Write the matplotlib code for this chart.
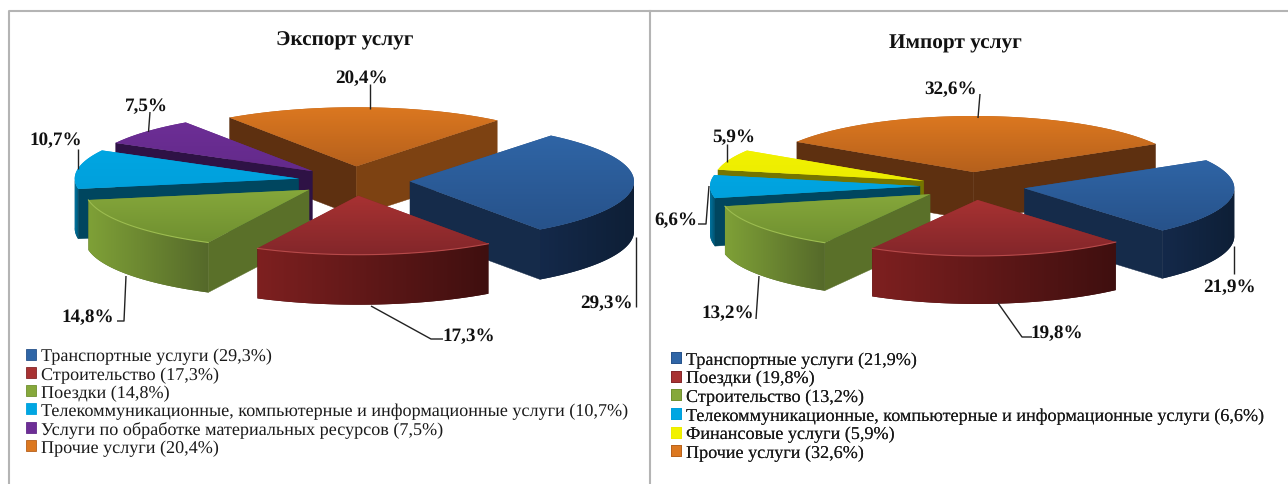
import numpy as np
import matplotlib
matplotlib.use("Agg")
import matplotlib.pyplot as plt
from matplotlib.patches import Polygon, Rectangle
from matplotlib.colors import LinearSegmentedColormap, to_rgb

plt.rcParams['font.family'] = ['Liberation Serif', 'DejaVu Serif']
plt.rcParams['text.hinting'] = 'no_hinting'

W, H = 1288, 485

# ---- data ----
export_names = ["Транспортные услуги", "Строительство", "Поездки",
                "Телекоммуникационные, компьютерные и информационные услуги",
                "Услуги по обработке материальных ресурсов", "Прочие услуги"]
export_values = [29.3, 17.3, 14.8, 10.7, 7.5, 20.4]
import_names = ["Транспортные услуги", "Поездки", "Строительство",
                "Телекоммуникационные, компьютерные и информационные услуги",
                "Финансовые услуги", "Прочие услуги"]
import_values = [21.9, 19.8, 13.2, 6.6, 5.9, 32.6]

# ---- styles: (top back, top front, wall left, wall right, near radial wall, far radial wall) ----
BLUE = ("#2f65a6", "#27528a", "#14294a", "#0e1f36", "#152b4a", "#152b4a")
RED = ("#a83232", "#82262a", "#7e2020", "#3f0f0f", "#5a1616", "#5a1616")
GREEN = ("#86a83b", "#6f8f30", "#7fa137", "#55692a", "#5a7029", "#5a7029")
CYAN = ("#00a6e2", "#00a0dc", "#007ba8", "#004a66", "#00465f", "#00465f")
PURPLE = ("#6d2e96", "#632a8a", "#4a1f68", "#2e1245", "#2e1245", "#2e1245")
ORANGE = ("#dc7820", "#b5601c", "#a85a18", "#5e3010", "#7d4212", "#5e3010")
ORANGE_IMP = ("#dc7820", "#b5601c", "#a85a18", "#5e3010", "#5e3010", "#5e3010")
YELLOW = ("#f2f200", "#ecec00", "#a0a000", "#7a7a00", "#757500", "#757500")
export_styles = [BLUE, RED, GREEN, CYAN, PURPLE, ORANGE]
import_styles = [BLUE, RED, GREEN, CYAN, YELLOW, ORANGE_IMP]
RIM = {RED[0]: "#b84a4a", GREEN[0]: "#9dbd50"}

EXPORT_GEOM = dict(cx=354, cy=182, rx=224, ry=59, depth=50, start=51, order=[5, 4, 3, 0, 2, 1])
IMPORT_GEOM = dict(cx=972.5, cy=187, rx=210, ry=56, depth=48, start=30, order=[5, 4, 3, 0, 2, 1])
EXPLODE = 0.25

# label centre and leader-line path, by slice
export_labels = [((607, 303), [(636, 308), (636, 238)]),
                 ((469, 336), [(371, 307), (431, 340), (443, 340)]),
                 ((88, 317), [(117, 322), (124, 322), (126, 277)]),
                 ((56, 140), [(78, 150), (78, 170)]),
                 ((146, 106), [(150, 113), (148.5, 133)]),
                 ((361.5, 78), [(370, 85), (370, 110)])]
import_labels = [((1230, 287), [(1234, 275), (1234, 247)]),
                 ((1057, 333), [(998, 304), (1022, 338), (1032, 338)]),
                 ((728, 313), [(756, 320), (759, 277)]),
                 ((676, 220), [(698, 225), (706, 225), (709, 187)]),
                 ((734, 137), [(727, 145), (727, 163)]),
                 ((951, 89), [(980, 95), (978, 119)])]

fig = plt.figure(figsize=(W / 100, H / 100), dpi=100, facecolor="white")
ax = fig.add_axes([0, 0, 1, 1])
ax.set_xlim(0, W)
ax.set_ylim(H, 0)
ax.axis("off")


def gradient_fill(pts, c0, c1, z, horizontal=False):
    poly = Polygon(pts, closed=True, fc=c1, ec="none", zorder=z)
    ax.add_patch(poly)
    cmap = LinearSegmentedColormap.from_list("g", [c0, c1])
    ramp = np.linspace(0, 1, 128)
    arr = ramp[None, :] if horizontal else ramp[:, None]
    img = ax.imshow(arr, cmap=cmap, aspect="auto", interpolation="bilinear",
                    extent=(pts[:, 0].min() - 1, pts[:, 0].max() + 1,
                            pts[:, 1].max() + 1, pts[:, 1].min() - 1),
                    zorder=z)
    img.set_clip_path(poly)


def draw_slice(a0, a1, style, g, z):
    """One exploded slice going clockwise from a0 to a1 degrees."""
    mid = np.radians((a0 + a1) / 2)
    rx, ry, d = g["rx"], g["ry"], g["depth"]
    ax0 = g["cx"] + EXPLODE * rx * np.cos(mid)
    ay0 = g["cy"] - EXPLODE * ry * np.sin(mid)
    th = np.radians(np.linspace(a0, a1, 120))
    xs = ax0 + rx * np.cos(th)
    ys = ay0 - ry * np.sin(th)

    # radial walls that face the viewer
    for a in (a0, a1):
        r = np.radians(a)
        dx, dy = rx * np.cos(r), ry * np.sin(r)      # y up
        mx, my = rx * np.cos(mid), ry * np.sin(mid)
        px, py = -dy, dx
        if px * mx + py * my > 0:
            px, py = -px, -py                         # outward normal
        if py < 0:
            ex, ey = ax0 + dx, ay0 - dy
            col = style[4] if dx > 0 else style[5]
            ax.add_patch(Polygon([(ax0, ay0), (ex, ey), (ex, ey + d), (ax0, ay0 + d)],
                                 closed=True, fc=col, ec=col, lw=0.3, zorder=z))
    # outer wall, facing part only
    vis = np.where(np.sin(th) < 0.02)[0]
    if len(vis) > 1:
        wall = np.column_stack([np.r_[xs[vis], xs[vis][::-1]],
                                np.r_[ys[vis], ys[vis][::-1] + d]])
        gradient_fill(wall, style[2], style[3], z + 0.1, horizontal=True)
    # top surface with a vertical gradient
    pts = np.column_stack([np.r_[ax0, xs], np.r_[ay0, ys]])
    gradient_fill(pts, style[0], style[1], z + 0.2)
    if style[0] in RIM and len(vis) > 1:
        ax.plot(xs[vis], ys[vis], color=RIM[style[0]], lw=0.8, zorder=z + 0.3)


def draw_pie(values, styles, g, labels):
    edges = g["start"] - np.cumsum([0] + list(values)) * 360.0 / sum(values)
    for rank, i in enumerate(g["order"]):
        draw_slice(edges[i], edges[i + 1], styles[i], g, 2 + rank)
    for v, ((lx, ly), path) in zip(values, labels):
        ax.plot(*zip(*path), color="#222222", lw=1.0, zorder=20, solid_capstyle="butt")
        ax.text(lx, ly, f"{v:.1f}%".replace(".", ","), fontsize=13.8, fontweight="bold",
                color="#111111", ha="center", va="center", zorder=21)


def draw_legend(names, values, styles, x, y, spacing):
    handles = [Rectangle((0, 0), 1, 1, fc=s[0], ec=s[1], lw=0.6) for s in styles]
    texts = [f"{n} ({v:.1f}%)".replace(".", ",") for n, v in zip(names, values)]
    leg = ax.legend(handles, texts, loc="upper left", bbox_to_anchor=(x, y),
                    bbox_transform=ax.transData, frameon=False, fontsize=13.1,
                    borderpad=0, borderaxespad=0, handlelength=0.55, handleheight=0.55,
                    handletextpad=0.27, labelspacing=spacing, labelcolor="#1a1a1a")
    ax.add_artist(leg)


draw_pie(export_values, export_styles, EXPORT_GEOM, export_labels)
draw_pie(import_values, import_styles, IMPORT_GEOM, import_labels)
ax.set_xlim(0, W)
ax.set_ylim(H, 0)

ax.text(345, 40, "Экспорт услуг", fontsize=15.3, fontweight="bold", ha="center", va="center", color="#111111")
ax.text(955, 43, "Импорт услуг", fontsize=15.3, fontweight="bold", ha="center", va="center", color="#111111")

draw_legend(export_names, export_values, export_styles, 26, 349, 0.105)
draw_legend(import_names, import_values, import_styles, 671, 352.5, 0.125)

# panel frame: open on the right and at the bottom
frame = "#b4b4b4"
ax.plot([9, 9, W], [H, 12, 12], color=frame, lw=1.5, zorder=1)
ax.plot([650, 650], [12, H], color=frame, lw=1.5, zorder=1)

fig.savefig("out.png", dpi=100, facecolor="white")
